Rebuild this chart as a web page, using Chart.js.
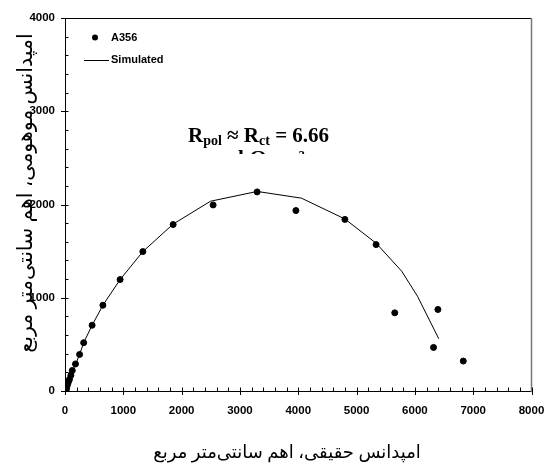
<!DOCTYPE html>
<html>
<head>
<meta charset="utf-8">
<script src="https://cdn.jsdelivr.net/npm/chart.js@4.4.1/dist/chart.umd.min.js"></script>
<style>
  html, body { margin: 0; padding: 0; background: #fff; }
  #wrap { width: 545px; height: 473px; position: relative; }
</style>
</head>
<body>
<div id="wrap"><canvas id="nyquist"></canvas></div>
<script>
// measured impedance (real, imaginary), ohm.cm2
const zReal = [20, 30, 45, 60, 77, 101, 125, 180, 250, 320, 465, 650, 945, 1335, 1855, 2540, 3295, 3960, 4800, 5335, 5655, 6320, 6395, 6830];
const zImag = [5, 35, 70, 100, 125, 168, 220, 290, 392, 518, 705, 920, 1195, 1495, 1785, 1995, 2135, 1935, 1840, 1570, 838, 467, 874, 321];

// fitted equivalent-circuit curve
const simReal = [20, 30, 50, 77, 101, 130, 185, 252, 322, 465, 650, 945, 1335, 1855, 2495, 3295, 4055, 4800, 5335, 5775, 6045, 6410];
const simImag = [0, 35, 80, 125, 168, 220, 292, 395, 520, 705, 920, 1195, 1495, 1790, 2035, 2140, 2068, 1845, 1585, 1284, 1016, 560];

const xTickValues = [0, 1000, 2000, 3000, 4000, 5000, 6000, 7000, 8000];
const yTickValues = [0, 1000, 2000, 3000, 4000];
const minorStep = 200;

const xTitle = 'امپدانس حقیقی، اهم سانتی‌متر مربع';
const yTitle = 'امپدانس موهومی، اهم سانتی‌متر مربع';

const pts = (xs, ys) => xs.map((x, i) => ({ x: x, y: ys[i] }));

const tickFont = { family: "'Liberation Sans', Arial, sans-serif", size: 11.5, weight: 'bold' };

// axis frame, tick marks, legend, titles and the Rpol note
const decor = {
  id: 'decor',
  afterDraw(chart) {
    const ctx = chart.ctx;
    const a = chart.chartArea;
    const xs = chart.scales.x, ys = chart.scales.y;
    ctx.save();
    ctx.strokeStyle = '#000';
    ctx.lineWidth = 1;

    // frame
    ctx.beginPath();
    ctx.moveTo(a.left + 0.5, a.bottom + 0.5);
    ctx.lineTo(a.left + 0.5, a.top + 0.5);
    ctx.lineTo(a.right, a.top + 0.5);
    ctx.moveTo(a.left, a.bottom + 0.5);
    ctx.lineTo(a.right, a.bottom + 0.5);
    ctx.stroke();
    ctx.strokeStyle = '#777';
    ctx.lineWidth = 1.5;
    ctx.beginPath();
    ctx.moveTo(a.right, a.top);
    ctx.lineTo(a.right, a.bottom + 1);
    ctx.stroke();

    // ticks: major cross the axis, minor point inward
    ctx.strokeStyle = '#000';
    ctx.lineWidth = 1;
    ctx.beginPath();
    for (let v = 0; v <= xs.max; v += minorStep) {
      const px = Math.round(xs.getPixelForValue(v)) + 0.5;
      const major = v % 1000 === 0;
      ctx.moveTo(px, a.bottom + (major ? 4 : 0));
      ctx.lineTo(px, a.bottom - 3.5);
    }
    for (let v = 0; v <= ys.max; v += minorStep) {
      const py = Math.round(ys.getPixelForValue(v)) + 0.5;
      const major = v % 1000 === 0;
      ctx.moveTo(a.left - (major ? 4 : 0), py);
      ctx.lineTo(a.left + 3.5, py);
    }
    ctx.stroke();

    // legend
    const ds = chart.data.datasets;
    ctx.fillStyle = '#000';
    ctx.font = "bold 11px 'Liberation Sans', Arial, sans-serif";
    ctx.textBaseline = 'middle';
    ctx.textAlign = 'left';
    ctx.beginPath();
    ctx.arc(95, 37.5, 3, 0, Math.PI * 2);
    ctx.fill();
    ctx.fillText(ds[0].label, 111, 38);
    ctx.beginPath();
    ctx.moveTo(84, 60.5);
    ctx.lineTo(109, 60.5);
    ctx.stroke();
    ctx.fillText(ds[1].label, 111, 60);

    // Rpol note
    const serif = "'Liberation Serif', 'Times New Roman', serif";
    let x = 188;
    const base = 142;
    ctx.textBaseline = 'alphabetic';
    const put = (txt, size, dy) => {
      ctx.font = 'bold ' + size + 'px ' + serif;
      ctx.fillText(txt, x, base + dy);
      x += ctx.measureText(txt).width;
    };
    put('R', 21, 0);
    put('pol', 14, 3);
    put(' \u2248 R', 21, 0);
    put('ct', 14, 3);
    put(' = 6.66', 21, 0);

    // unit line under the note, cut off by the box above it
    ctx.save();
    ctx.beginPath();
    ctx.rect(180, 149, 160, 5);
    ctx.clip();
    ctx.font = 'bold 21px ' + serif;
    ctx.fillText('k\u03A9 cm\u00B2', 238, 165);
    ctx.restore();

    // axis titles
    ctx.font = "18px 'Liberation Serif', 'DejaVu Sans', serif";
    ctx.textAlign = 'center';
    ctx.textBaseline = 'middle';
    ctx.fillText(xTitle, 287, 453);
    ctx.save();
    ctx.translate(27, 193);
    ctx.rotate(-Math.PI / 2);
    ctx.font = "20.5px 'Liberation Serif', 'DejaVu Sans', serif";
    ctx.fillText(yTitle, 0, 0);
    ctx.restore();

    ctx.restore();
  }
};

new Chart(document.getElementById('nyquist'), {
  type: 'scatter',
  data: {
    datasets: [{
      label: 'A356',
      data: pts(zReal, zImag),
      backgroundColor: '#000',
      borderColor: '#000',
      pointRadius: 3,
      pointHoverRadius: 3,
      showLine: false
    }, {
      label: 'Simulated',
      data: pts(simReal, simImag),
      borderColor: '#000',
      borderWidth: 1,
      pointRadius: 0,
      showLine: true,
      tension: 0
    }]
  },
  options: {
    responsive: true,
    maintainAspectRatio: false,
    animation: false,
    layout: { padding: { top: 18, right: 13.5, left: 0, bottom: 0 } },
    plugins: {
      legend: { display: false },
      tooltip: { enabled: false }
    },
    scales: {
      x: {
        type: 'linear',
        min: 0,
        max: 8000,
        afterBuildTicks: s => { s.ticks = xTickValues.map(v => ({ value: v })); },
        afterFit: s => { s.height = 82; s.paddingLeft = 0; s.paddingRight = 0; },
        grid: { display: false, drawTicks: false },
        border: { display: false },
        ticks: { color: '#000', font: tickFont, padding: 13, maxRotation: 0, callback: v => String(v) }
      },
      y: {
        type: 'linear',
        min: 0,
        max: 4000,
        afterBuildTicks: s => { s.ticks = yTickValues.map(v => ({ value: v })); },
        afterFit: s => { s.width = 65; s.paddingTop = 0; s.paddingBottom = 0; },
        grid: { display: false, drawTicks: false },
        border: { display: false },
        ticks: { color: '#000', font: tickFont, padding: 10, callback: v => String(v) }
      }
    }
  },
  plugins: [decor]
});
</script>
</body>
</html>
